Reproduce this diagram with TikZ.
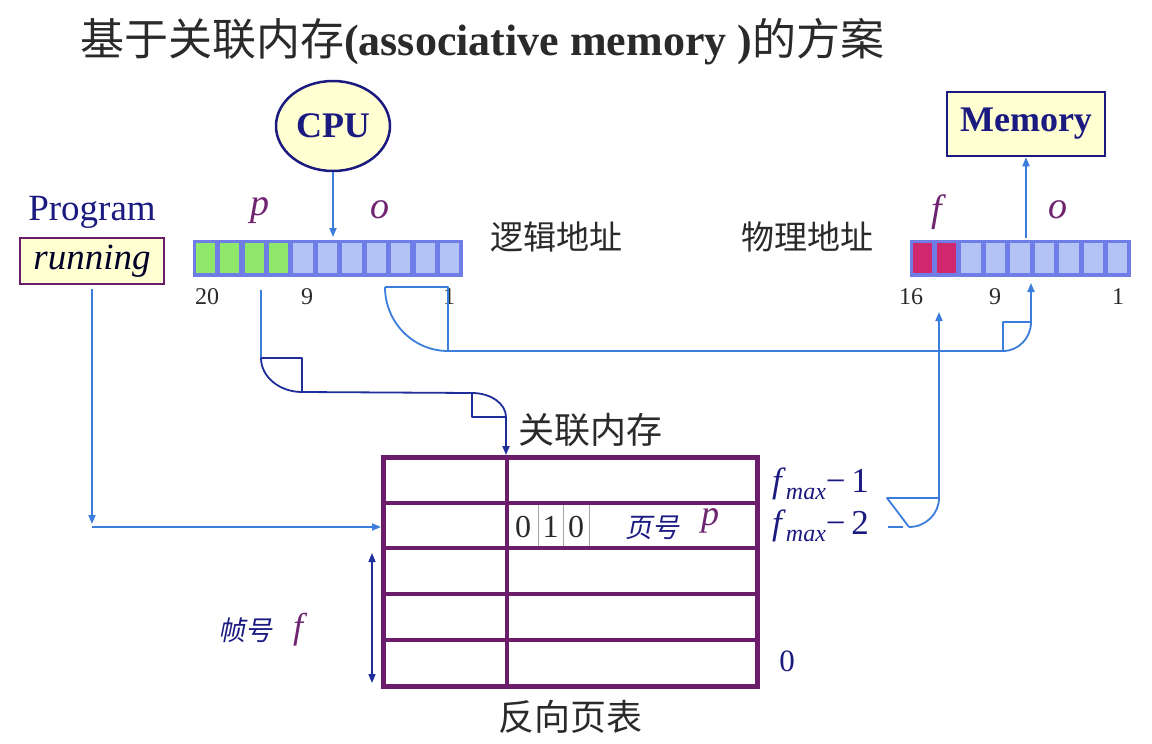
\documentclass[tikz,border=0pt]{standalone}
\usepackage{fontspec}
\setmainfont{Liberation Serif}
\newfontfamily\cjk{Noto Sans CJK SC}
\newfontfamily\cjkit[FakeSlant=0.2]{Noto Sans CJK SC}
\usetikzlibrary{arrows.meta,shapes.geometric}
\definecolor{cnavy}{HTML}{1A1A80}
\definecolor{clblue}{HTML}{3A7DDC}
\definecolor{cdblue}{HTML}{1E2E9A}
\definecolor{cpurple}{HTML}{6B1D6B}
\definecolor{cvar}{HTML}{6E2470}
\definecolor{cyel}{HTML}{FFFFD2}
\definecolor{cregb}{HTML}{6F7DE6}
\definecolor{ccellb}{HTML}{B3C3F5}
\definecolor{ccellg}{HTML}{8FE86A}
\definecolor{ccellm}{HTML}{D0286E}
\definecolor{ctext}{HTML}{2A2A2A}
\tikzset{
  lconn/.style={draw=clblue, line width=1.8pt},
  dconn/.style={draw=cdblue, line width=1.8pt},
  ltip/.style={-{Triangle[length=9pt,width=7pt]}},
  vartext/.style={text=cvar, font=\fontsize{38}{38}\selectfont\itshape},
  numtext/.style={text=ctext, font=\fontsize{24}{24}\selectfont},
  cntext/.style={text=ctext, font=\fontsize{33}{33}\selectfont\cjk},
  bigcn/.style={text=ctext, font=\fontsize{36}{36}\selectfont\cjk},
}
\begin{document}
\begin{tikzpicture}[x=1pt,y=-1pt]
\useasboundingbox[fill=white] (0,0) rectangle (1152,744);

% title
\node[anchor=west, text=ctext, font=\fontsize{44}{44}\selectfont, inner sep=0] (title) at (80,42)
  {{\cjk 基于关联内存}\textbf{(associative memory )}{\cjk 的方案}};

% CPU
\node[ellipse, draw=cnavy, line width=2.5pt, fill=cyel, minimum width=114, minimum height=90,
  text=cnavy, font=\fontsize{36}{36}\selectfont\bfseries, inner sep=0] (cpu) at (333,126) {CPU};

% Memory
\node[draw=cnavy, line width=2.5pt, fill=cyel, minimum width=158, minimum height=64,
  text=cnavy, font=\fontsize{36}{36}\selectfont\bfseries, inner sep=0] (mem) at (1026,124) {Memory};

% Program running
\node[text=cnavy, font=\fontsize{37}{37}\selectfont] (prog) at (92,212) {Program};
\node[draw=cpurple, line width=2pt, fill=cyel, minimum width=144, minimum height=46,
  text=black!85!blue, font=\fontsize{37}{37}\selectfont\itshape, inner sep=0] (run) at (92,261) {running};

% logical address register
\node[draw=cregb, fill=cregb, line width=0pt, minimum width=269, minimum height=36, inner sep=0] (lreg) at (327.5,258) {};
\foreach \i in {0,...,10} {
  \pgfmathsetmacro{\xa}{193+\i*24.4545+2.6}
  \pgfmathsetmacro{\xb}{193+(\i+1)*24.4545-2.6}
  \ifnum\i<4 \fill[ccellg] (\xa,243) rectangle (\xb,273);
  \else \fill[ccellb] (\xa,243) rectangle (\xb,273); \fi
}
\node[vartext] (lp) at (260,211) {p};
\node[vartext] (lo) at (380,210) {o};
\node[numtext] (n20) at (207,297) {20};
\node[numtext] (n9a) at (307,297) {9};
\node[numtext] (n1a) at (449,297) {1};
\node[cntext] (logaddr) at (556,237) {逻辑地址};

% physical address register
\node[draw=cregb, fill=cregb, line width=0pt, minimum width=220, minimum height=36, inner sep=0] (preg) at (1020,258) {};
\foreach \i in {0,...,8} {
  \pgfmathsetmacro{\xa}{910+\i*24.444+2.6}
  \pgfmathsetmacro{\xb}{910+(\i+1)*24.444-2.6}
  \ifnum\i<2 \fill[ccellm] (\xa,243) rectangle (\xb,273);
  \else \fill[ccellb] (\xa,243) rectangle (\xb,273); \fi
}
\node[vartext] (pf) at (937,212) {f};
\node[vartext] (po) at (1058,210) {o};
\node[numtext] (n16) at (911,297) {16};
\node[numtext] (n9b) at (995,297) {9};
\node[numtext] (n1b) at (1118,297) {1};
\node[cntext] (phyaddr) at (807,237) {物理地址};

% table
\node[draw=cpurple, line width=5pt, minimum width=374, minimum height=229, inner sep=0] (tbl) at (570,571.5) {};
\foreach \y in {503,548,594,640} \draw[cpurple, line width=4.5pt] (383,\y) -- (757,\y);
\draw[cpurple, line width=4.5pt] (507,457) -- (507,686);
\draw[gray!70, line width=0.8pt] (538,505) -- (538,546) (563,505) -- (563,546) (589,505) -- (589,546);
\node[text=ctext, font=\fontsize{32}{32}\selectfont] (b0) at (523,527) {0};
\node[text=ctext, font=\fontsize{32}{32}\selectfont] (b1) at (550.5,527) {1};
\node[text=ctext, font=\fontsize{32}{32}\selectfont] (b2) at (576,527) {0};
\node[text=cnavy, font=\fontsize{27}{27}\selectfont\cjkit] (yh) at (652,528) {页号};
\node[text=cvar, font=\fontsize{36}{36}\selectfont\itshape] (tp) at (710,521) {p};
\node[bigcn] (assoc) at (590,430) {关联内存};
\node[bigcn] (ipt) at (570,717) {反向页表};

\node[anchor=west, text=cnavy, font=\fontsize{35}{35}\selectfont, inner sep=0] (fm1) at (772,484)
  {\textit{f}\raisebox{-7pt}{\fontsize{24}{24}\selectfont\itshape max}−\,1};
\node[anchor=west, text=cnavy, font=\fontsize{35}{35}\selectfont, inner sep=0] (fm2) at (772,526)
  {\textit{f}\raisebox{-7pt}{\fontsize{24}{24}\selectfont\itshape max}−\,2};
\node[text=cnavy, font=\fontsize{31}{31}\selectfont] (f0) at (787,661) {0};

\node[text=cnavy, font=\fontsize{27}{27}\selectfont\cjkit] (zh) at (245,630) {帧号};
\node[text=cvar, font=\fontsize{36}{36}\selectfont\itshape] (zf) at (298,630) {f};
\coordinate (da) at (372,553);
\coordinate (db) at (372,683);
\draw[cdblue, line width=1.5pt, {Triangle[length=9pt,width=7pt]}-{Triangle[length=9pt,width=7pt]}] (da) -- (db);

% CPU -> logical address
\draw[lconn, ltip] (cpu.south) -- (333,237);

% physical -> memory
\coordinate (pm) at (1026,238);
\draw[lconn, ltip] (pm) -- (mem.south);

% running -> table row
\coordinate (rb) at (92,524);
\coordinate (rc) at (92,527);
\draw[lconn, ltip] (run.south) ++(0,4) -- (rb);
\draw[lconn, ltip] (rc) -- (381,527);

% p -> associative memory
\coordinate (p0) at (261,290);
\coordinate (p1) at (261,358);
\coordinate (p2) at (302,392);
\coordinate (p3) at (472,393);
\coordinate (p4) at (506,417);
\draw[lconn] (p0) -- (p1);
\draw[dconn, line join=round] (p1) -- (302,358) -- (p2) .. controls (279.4,392) and (261,376.8) .. (p1);
\draw[dconn] (p2) -- (p3);
\draw[dconn, line join=round] (p3) .. controls (490.8,393) and (506,403.7) .. (p4) -- (472,417) -- (p3);
\draw[dconn, ltip] (p4) -- (506,455);

% o -> physical offset
\coordinate (o1) at (385,287);
\coordinate (o2) at (448,351);
\coordinate (o3) at (1003,351);
\coordinate (o4) at (1031,322);
\draw[lconn, line join=round] (o1) -- (448,287) -- (o2) .. controls (413.2,351) and (385,322.3) .. (o1);
\draw[lconn] (o2) -- (o3);
\draw[lconn, line join=round] (o3) .. controls (1018.5,351) and (1031,338) .. (o4) -- (1003,322) -- (o3);
\draw[lconn, ltip] (o4) -- (1031,283);

% f from table to physical frame
\coordinate (f1) at (888,527);
\coordinate (f2) at (909,527);
\coordinate (f3) at (939,498);
\draw[lconn] (f1) -- (903,527);
\draw[lconn, line join=round] (f2) .. controls (925.6,527) and (939,514) .. (f3) -- (887,498) -- (f2);
\draw[lconn, ltip] (f3) -- (939,312);
\end{tikzpicture}
\end{document}
